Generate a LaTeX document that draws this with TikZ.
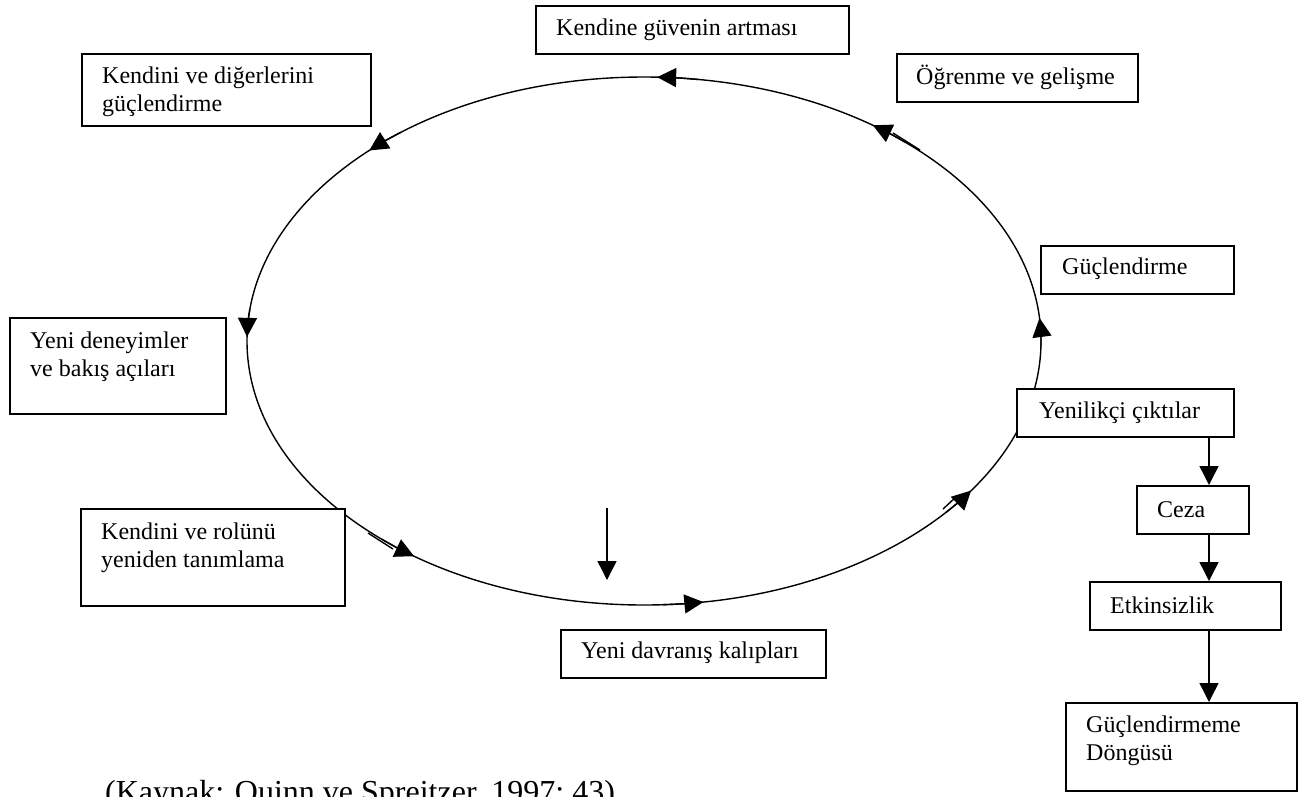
\documentclass[tikz,border=0pt]{standalone}
\usepackage{fontspec}
\setmainfont{Liberation Serif}
\usetikzlibrary{arrows.meta}
\begin{document}
\begin{tikzpicture}[x=1pt,y=-1pt,
  box/.style={draw, fill=white, line width=1.8pt, inner sep=0pt, anchor=north west},
  txt/.style={anchor=west, align=left, inner sep=0pt, font=\fontsize{24}{28}\selectfont},
  curve/.style={line width=1.4pt},
  arr/.style={line width=1.4pt, -{Triangle[length=19pt,width=19pt]}},
]
\useasboundingbox (0,0) rectangle (1309,796);
\clip (0,0) rectangle (1309,796);

% the cycle
\coordinate (O) at (644,341);
\draw[curve] (O) ellipse [x radius=397, y radius=264];
\foreach \s in {88.1,133.8,179.1,234.6,278.6,325.5,365,414.8}{
  \draw[arr] ([shift={({-\s+6}:397 and 264)}]O)
     arc[start angle={-\s+6}, end angle={-\s}, x radius=397, y radius=264];
}
% small tail strokes
\coordinate (t1a) at (893,133); \coordinate (t1b) at (920,150);
\coordinate (t2a) at (368,533); \coordinate (t2b) at (393,549);
\coordinate (t3a) at (943,509); \coordinate (t3b) at (956,497);
\draw[curve] (t1a) -- (t1b);
\draw[curve] (t2a) -- (t2b);
\draw[curve] (t3a) -- (t3b);

% boxes
\node[box, minimum width=313pt, minimum height=48pt] (kg) at (535,5) {};
\node[box, minimum width=289pt, minimum height=72pt] (kd) at (81,53) {};
\node[box, minimum width=241pt, minimum height=48pt] (og) at (896,53) {};
\node[box, minimum width=193pt, minimum height=48pt] (gc) at (1040,245) {};
\node[box, minimum width=216pt, minimum height=96pt] (yd) at (9,317) {};
\node[box, minimum width=217pt, minimum height=48pt] (yc) at (1016,388) {};
\node[box, minimum width=264pt, minimum height=97pt] (kr) at (80,508) {};
\node[box, minimum width=265pt, minimum height=48pt] (yv) at (560,629) {};
\node[box, minimum width=112pt, minimum height=48pt] (cz) at (1136,485) {};
\node[box, minimum width=191pt, minimum height=48pt] (ek) at (1089,581) {};
\node[box, minimum width=231pt, minimum height=88pt] (gm) at (1065,702) {};

% texts
\node[txt] (kgt) at (556,30) {Kendine güvenin artması};
\node[txt] (kdt) at (102,92) {Kendini ve diğerlerini\\güçlendirme};
\node[txt] (ogt) at (916,77) {Öğrenme ve gelişme};
\node[txt] (gct) at (1062,269) {Güçlendirme};
\node[txt] (ydt) at (30,357) {Yeni deneyimler\\ve bakış açıları};
\node[txt] (yct) at (1039,413) {Yenilikçi çıktılar};
\node[txt] (krt) at (101,548) {Kendini ve rolünü\\yeniden tanımlama};
\node[txt] (yvt) at (581,653) {Yeni davranış kalıpları};
\node[txt] (czt) at (1157,510) {Ceza};
\node[txt] (ekt) at (1110,605) {Etkinsizlik};
\node[txt] (gmt) at (1086,741) {Güçlendirmeme\\Döngüsü};

% chain on the right
\coordinate (cx) at (1209,0);
\draw[arr] (yc.south -| cx) -- (cz.north -| cx);
\draw[arr] (cz.south -| cx) -- (ek.north -| cx);
\draw[arr] (ek.south -| cx) -- (gm.north -| cx);

% free vertical arrow
\coordinate (va1) at (607,508);
\coordinate (va2) at (607,580);
\draw[arr] (va1) -- (va2);

% source
\node[anchor=base west, inner sep=0pt, font=\fontsize{32}{36}\selectfont] (src) at (105,802) {(Kaynak: Quinn ve Spreitzer, 1997; 43)};
\end{tikzpicture}
\end{document}
